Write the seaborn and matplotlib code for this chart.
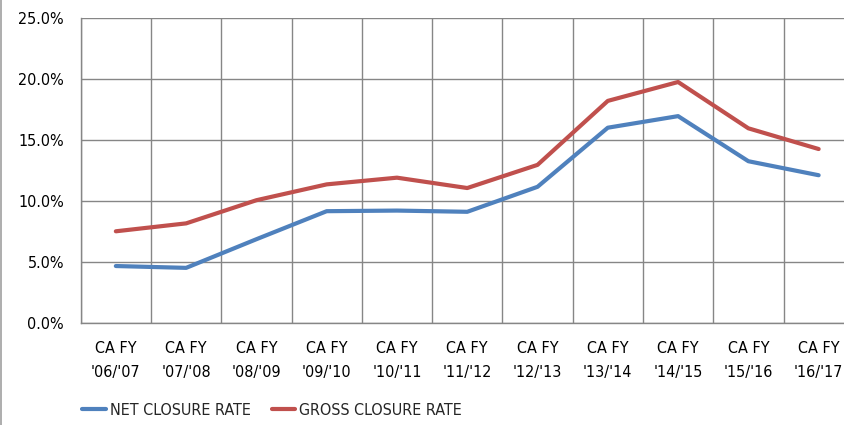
import pandas as pd
import matplotlib.pyplot as plt
import seaborn as sns
from matplotlib.lines import Line2D
from matplotlib.ticker import FuncFormatter, FixedLocator

# Datos
years = ["'06/'07", "'07/'08", "'08/'09", "'09/'10", "'10/'11", "'11/'12",
         "'12/'13", "'13/'14", "'14/'15", "'15/'16", "'16/'17"]
net_rate = [4.65, 4.5, 6.85, 9.15, 9.2, 9.1, 11.15, 16.0, 16.95, 13.25, 12.1]
gross_rate = [7.5, 8.15, 10.05, 11.35, 11.9, 11.05, 12.95, 18.2, 19.75, 15.95, 14.25]
series_names = ['NET CLOSURE RATE', 'GROSS CLOSURE RATE']
colors = ['#4F81BD', '#C0504D']

df = pd.DataFrame({'idx': list(range(len(years))) * 2,
                   'rate': net_rate + gross_rate,
                   'serie': [series_names[0]] * len(years) + [series_names[1]] * len(years)})

sns.set_style('white')
plt.rcParams['font.family'] = ['DejaVu Sans']
plt.rcParams['font.stretch'] = 'condensed'

fig = plt.figure(figsize=(8.45, 4.25), dpi=100)
ax = fig.add_axes([0.0955, 0.2407, 0.9149, 0.7169])

sns.lineplot(data=df, x='idx', y='rate', hue='serie', palette=colors,
             linewidth=3, ax=ax, legend=False, hue_order=series_names)

grid_color = '#868686'
ax.set_xlim(-0.5, len(years) - 0.5)
ax.set_ylim(0, 25)
ax.set_yticks([0, 5, 10, 15, 20, 25])
ax.yaxis.set_major_formatter(FuncFormatter(lambda v, p: f'{v:.1f}%'))
ax.set_xticks(range(len(years)))
ax.set_xticklabels([f'CA FY\n{y}' for y in years], linespacing=1.8)
ax.xaxis.set_minor_locator(FixedLocator([i - 0.5 for i in range(len(years) + 1)]))
ax.grid(True, which='major', axis='y', color=grid_color, linewidth=1)
ax.grid(True, which='minor', axis='x', color=grid_color, linewidth=1)
ax.tick_params(axis='both', which='both', length=0, labelsize=11.5, colors='black')
ax.tick_params(axis='x', pad=13)
ax.tick_params(axis='y', pad=12)
ax.set_xlabel('')
ax.set_ylabel('')
for side in ['top', 'right']:
    ax.spines[side].set_visible(False)
for side in ['left', 'bottom']:
    ax.spines[side].set_color(grid_color)
    ax.spines[side].set_linewidth(1)

handles = [Line2D([0], [0], color=c, linewidth=3) for c in colors]
fig.legend(handles, series_names, loc='center', bbox_to_anchor=(0.322, 0.035),
           ncol=2, frameon=False, fontsize=11.5, handlelength=1.5,
           handletextpad=0.25, columnspacing=1.3)

fig.add_artist(Line2D([0.001, 0.001], [0, 1], color='#a0a0a0', linewidth=1.2,
                      transform=fig.transFigure))

plt.savefig('out.png', dpi=100)
